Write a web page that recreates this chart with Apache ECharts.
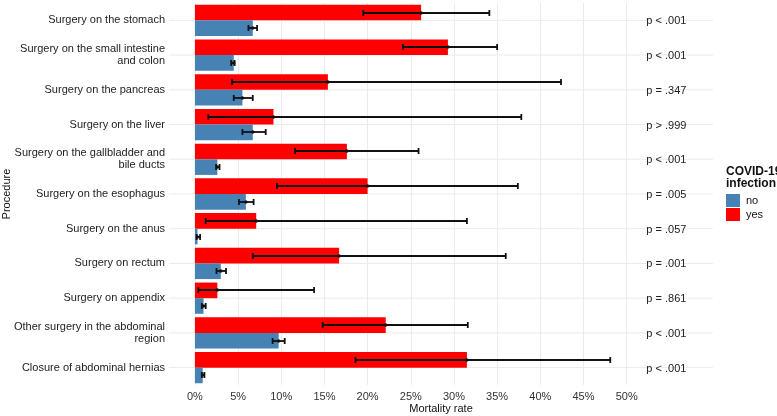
<!DOCTYPE html>
<html>
<head>
<meta charset="utf-8">
<script src="https://cdn.jsdelivr.net/npm/echarts@6/dist/echarts.min.js"></script>
<style>
  html, body { margin: 0; padding: 0; background: #fff; }
  #chart { width: 777px; height: 416px; }
</style>
</head>
<body>
<div id="chart"></div>
<script>
// categories, top to bottom
const procedures = [
  "Surgery on the stomach",
  "Surgery on the small intestine\nand colon",
  "Surgery on the pancreas",
  "Surgery on the liver",
  "Surgery on the gallbladder and\nbile ducts",
  "Surgery on the esophagus",
  "Surgery on the anus",
  "Surgery on rectum",
  "Surgery on appendix",
  "Other surgery in the abdominal\nregion",
  "Closure of abdominal hernias",
];

// mortality rate (%) with COVID-19 infection
const yesRate = [26.2, 29.3, 15.4, 9.1, 17.6, 20.0, 7.1, 16.7, 2.6, 22.1, 31.5];
const yesLow = [19.5, 24.1, 4.3, 1.55, 11.6, 9.5, 1.25, 6.7, 0.4, 14.8, 18.6];
const yesHigh = [34.1, 35.0, 42.4, 37.8, 25.9, 37.4, 31.5, 36.0, 13.8, 31.6, 48.1];

// mortality rate (%) without COVID-19 infection
const noRate = [6.7, 4.5, 5.5, 6.7, 2.6, 5.9, 0.3, 3.0, 1.0, 9.7, 0.9];
const noLow = [6.2, 4.2, 4.5, 5.5, 2.45, 5.1, 0.2, 2.5, 0.8, 9.0, 0.8];
const noHigh = [7.2, 4.6, 6.7, 8.2, 2.85, 6.8, 0.6, 3.6, 1.25, 10.4, 1.1];

// p-values shown at the right of each row
const pValues = [
  "p < .001", "p < .001", "p = .347", "p > .999", "p < .001", "p = .005",
  "p = .057", "p = .001", "p = .861", "p < .001", "p < .001",
];
const pValueX = 54.6;

const xTicks = [0, 5, 10, 15, 20, 25, 30, 35, 40, 45, 50];

const FONT = "Liberation Sans, Arial, sans-serif";
const colors = { no: "#4682b4", yes: "#ff0000" };

const chart = echarts.init(document.getElementById("chart"));

// error bar renderer; side -1 = upper bar (yes), +1 = lower bar (no)
const errorBar = (side) => (params, api) => {
  const cat = api.value(0);
  const lo = api.coord([api.value(1), cat]);
  const hi = api.coord([api.value(2), cat]);
  const mid = api.coord([api.value(3), cat]);
  const band = api.size([0, 1])[1];
  const y = Math.round(lo[1] + side * band * 0.225);
  const cap = 3;
  const style = { stroke: "#111", lineWidth: 1.8 };
  return {
    type: "group",
    children: [
      { type: "line", shape: { x1: lo[0], y1: y, x2: hi[0], y2: y }, style },
      { type: "line", shape: { x1: lo[0], y1: y - cap, x2: lo[0], y2: y + cap }, style },
      { type: "line", shape: { x1: hi[0], y1: y - cap, x2: hi[0], y2: y + cap }, style },
      { type: "circle", shape: { cx: mid[0], cy: y, r: 1.7 }, style: { fill: "#111" } },
    ],
  };
};

const errData = (low, high, est) => procedures.map((_, i) => [i, low[i], high[i], est[i]]);

chart.setOption({
  backgroundColor: "#fff",
  animation: false,
  grid: {
    left: 169,
    right: 64,
    top: 3,
    bottom: 31,
    containLabel: false,
    outerBoundsMode: "none",
  },
  xAxis: {
    type: "value",
    min: -3,
    max: 60,
    name: "Mortality rate",
    nameLocation: "middle",
    nameGap: 18,
    nameMoveOverlap: false,
    nameTextStyle: { color: "#111", fontSize: 11, fontFamily: FONT },
    axisLine: { show: false },
    axisTick: { show: false, customValues: xTicks },
    axisLabel: {
      customValues: xTicks,
      formatter: (v) => v + "%",
      color: "#333",
      fontSize: 11,
      fontFamily: FONT,
      margin: 6,
    },
    splitLine: { show: true, lineStyle: { color: "#ebebeb", width: 1 } },
  },
  yAxis: {
    type: "category",
    inverse: true,
    data: procedures,
    name: "Procedure",
    nameLocation: "middle",
    nameGap: 157,
    nameMoveOverlap: false,
    nameTextStyle: { color: "#111", fontSize: 11, fontFamily: FONT },
    axisLine: { show: false },
    axisTick: { show: false },
    splitLine: { show: false },
    axisLabel: {
      color: "#222",
      fontSize: 11,
      lineHeight: 12,
      fontFamily: FONT,
      margin: 4,
      align: "right",
    },
  },
  legend: {
    data: ["no", "yes"],
    orient: "vertical",
    left: 726,
    top: 194,
    padding: 0,
    itemWidth: 14,
    itemHeight: 13,
    itemGap: 1,
    icon: "rect",
    selectedMode: false,
    textStyle: { color: "#111", fontSize: 11, fontFamily: FONT, padding: [0, 0, 0, 1] },
  },
  graphic: [
    {
      type: "text",
      left: 726,
      top: 166,
      style: {
        text: "COVID-19\ninfection",
        font: "bold 12px " + FONT,
        lineHeight: 12,
        fill: "#111",
      },
    },
  ],
  series: [
    {
      // horizontal grid lines at category centres
      type: "custom",
      silent: true,
      z: 0,
      data: procedures.map((_, i) => [i]),
      encode: { y: 0 },
      renderItem: (params, api) => {
        const p = api.coord([0, api.value(0)]);
        const cs = params.coordSys;
        return {
          type: "line",
          shape: { x1: cs.x, y1: p[1], x2: cs.x + cs.width, y2: p[1] },
          style: { stroke: "#ebebeb", lineWidth: 1 },
        };
      },
    },
    {
      name: "yes",
      type: "bar",
      z: 2,
      data: yesRate,
      itemStyle: { color: colors.yes },
      barCategoryGap: "10%",
      barGap: "0%",
    },
    {
      name: "no",
      type: "bar",
      z: 2,
      data: noRate,
      itemStyle: { color: colors.no },
      barCategoryGap: "10%",
      barGap: "0%",
    },
    {
      type: "custom",
      z: 3,
      silent: true,
      data: errData(yesLow, yesHigh, yesRate),
      encode: { x: [1, 2, 3], y: 0 },
      renderItem: errorBar(-1),
    },
    {
      type: "custom",
      z: 3,
      silent: true,
      data: errData(noLow, noHigh, noRate),
      encode: { x: [1, 2, 3], y: 0 },
      renderItem: errorBar(1),
    },
    {
      // p-value annotations
      type: "custom",
      z: 3,
      silent: true,
      data: procedures.map((_, i) => [pValueX, i]),
      encode: { x: 0, y: 1 },
      renderItem: (params, api) => {
        const p = api.coord([api.value(0), api.value(1)]);
        return {
          type: "text",
          x: p[0],
          y: p[1] + 1,
          style: {
            text: pValues[params.dataIndex],
            fontSize: 11,
            fontFamily: FONT,
            fill: "#222",
            align: "center",
            verticalAlign: "middle",
          },
        };
      },
    },
  ],
});

window.addEventListener("resize", chart.resize);
</script>
</body>
</html>
